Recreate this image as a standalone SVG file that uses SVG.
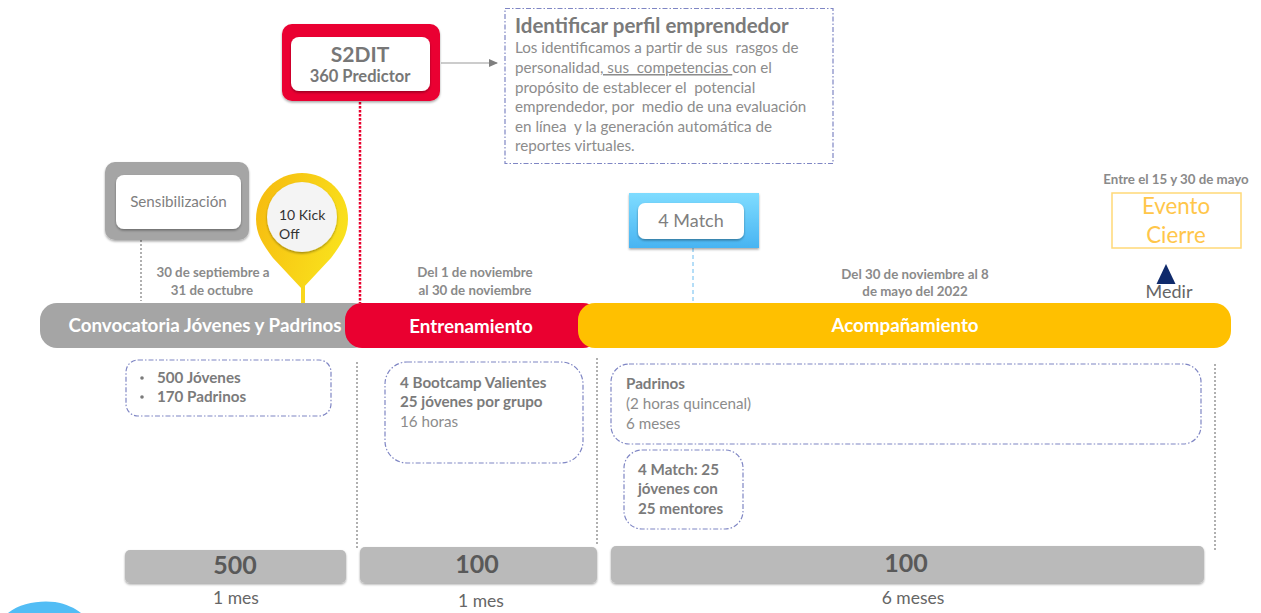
<svg xmlns="http://www.w3.org/2000/svg" width="1261" height="613" viewBox="0 0 1261 613">
<style>
text{font-family:Lato,"Open Sans","Liberation Sans",sans-serif;fill:#7f7f7f}
.b{font-weight:700}
.m{text-anchor:middle}
.date{font-size:13.300px;font-weight:700;fill:#8a8a8a;text-anchor:middle}
.body{font-size:15.200px;fill:#8c8c8c}
.bold{font-size:15.200px;font-weight:700;fill:#7b7b7b}
.bar{font-size:18.800px;font-weight:700;fill:#fff;text-anchor:middle}
.dash{fill:#fff;stroke:#7f86c4;stroke-width:1.2;stroke-dasharray:5 2 1.5 2}
.white{fill:#fff;filter:url(#s)}
.gbar{fill:#bababa;filter:url(#s)}
.num{font-size:25px;font-weight:700;fill:#595959;text-anchor:middle}
.dur{font-size:17.500px;fill:#666;text-anchor:middle}
.v{fill:none;stroke:#b0b0b0;stroke-width:2;stroke-dasharray:2 2}
</style>
<defs>
<filter id="s" x="-10%" y="-15%" width="120%" height="140%"><feDropShadow dx="0" dy="1.5" stdDeviation="1.2" flood-color="#000" flood-opacity=".35"/></filter>
<linearGradient id="pin" x1="0" y1="0" x2="1" y2="0.4"><stop offset="0" stop-color="#f6b90f"/><stop offset="1" stop-color="#f9e01c"/></linearGradient>
<linearGradient id="blue" x1="0" y1="0" x2="0" y2="1"><stop offset="0" stop-color="#7fdcff"/><stop offset="1" stop-color="#48b4f2"/></linearGradient>
<marker id="ah" markerWidth="9" markerHeight="8" refX="8" refY="4" orient="auto" markerUnits="userSpaceOnUse"><path d="M0 0L9 4L0 8Z" fill="#7f7f7f"/></marker>
</defs>

<g id="connectors">
<path d="M441 63H497" fill="none" stroke="#9a9a9a" stroke-width="1.2" marker-end="url(#ah)"/>
<path d="M360 102V303" fill="none" stroke="#e8002d" stroke-width="2.500" stroke-dasharray="2.500 1.500"/>
<path d="M141 240V301" class="v"/>
<path d="M303 285V304" fill="none" stroke="#f9d71c" stroke-width="4"/>
<path d="M693 248V302" fill="none" stroke="#6bbcf0" stroke-width="1" stroke-dasharray="4 3"/>
<path d="M357 362V548" class="v"/>
<path d="M597 358V545" class="v"/>
<path d="M1215 364V552" class="v"/>
</g>

<g id="bars">
<g id="bar-convocatoria"><rect x="40" y="303" width="330" height="45" rx="17" fill="#a5a5a5"/><text class="bar" x="205" y="332">Convocatoria Jóvenes y Padrinos</text></g>
<g id="bar-entrenamiento"><rect x="345" y="303" width="255" height="45" rx="17" fill="#ea0030"/><text class="bar" x="471" y="333">Entrenamiento</text></g>
<g id="bar-acompanamiento"><rect x="578" y="303" width="653" height="45" rx="17" fill="#ffc000"/><text class="bar" x="905" y="332">Acompañamiento</text></g>
</g>

<g id="s2dit">
<rect x="282" y="24" width="158" height="77" rx="10" fill="#ea0030" filter="url(#s)"/>
<rect class="white" x="291" y="37" width="139" height="54" rx="8"/>
<text class="m b" x="360" y="62" font-size="21" style="fill:#777">S2DIT</text>
<text class="m b" x="360" y="82" font-size="16.500" style="fill:#777">360 Predictor</text>
</g>

<g id="perfil">
<rect class="dash" x="505" y="8.500" width="328" height="155" style="fill:none"/>
<text class="b" x="515" y="33" font-size="20.500" style="fill:#7a7a7a">Identificar perfil emprendedor</text>
<text class="body" x="515" y="53" xml:space="preserve">Los identificamos a partir de sus  rasgos de</text>
<text class="body" x="515" y="73" xml:space="preserve">personalidad<tspan text-decoration="underline">, sus  competencias </tspan>con el</text>
<text class="body" x="515" y="93" xml:space="preserve">propósito de establecer el  potencial</text>
<text class="body" x="515" y="112" xml:space="preserve">emprendedor, por  medio de una evaluación</text>
<text class="body" x="515" y="132" xml:space="preserve">en línea  y la generación automática de</text>
<text class="body" x="515" y="151">reportes virtuales.</text>
</g>

<g id="sensibilizacion">
<rect x="105" y="162" width="144" height="78" rx="10" fill="#a5a5a5" filter="url(#s)"/>
<rect class="white" x="116" y="175" width="125" height="54" rx="8"/>
<text class="m" x="178.500" y="207" font-size="15.200">Sensibilización</text>
</g>

<g id="kickoff">
<path d="M302 173C327 173 348 193 348 219C348 235 340 246 331 258L302 289L273 258C264 246 256 235 256 219C256 193 277 173 302 173Z" fill="url(#pin)"/>
<circle cx="302" cy="217" r="35" fill="#f4f4f4" filter="url(#s)"/>
<text x="279" y="220" font-size="14" style="fill:#333">10 Kick</text>
<text x="279" y="239" font-size="14" style="fill:#333">Off</text>
</g>

<g id="match">
<rect x="629" y="193" width="130" height="55" fill="url(#blue)" filter="url(#s)"/>
<rect class="white" x="638" y="203" width="106" height="36" rx="7"/>
<text class="m" x="691" y="227" font-size="18">4 Match</text>
</g>

<g id="evento">
<rect x="1112" y="193" width="129" height="55" fill="#fff" stroke="#ffd977" stroke-width="1.5"/>
<text class="m" x="1176" y="214" font-size="22.300" style="fill:#ffc64a">Evento</text>
<text class="m" x="1176" y="243" font-size="22.300" style="fill:#ffc64a">Cierre</text>
</g>

<g id="medir">
<path d="M1166 264L1175.500 284H1156.500Z" fill="#0f2a6b"/>
<text class="m" x="1169" y="298" font-size="18" style="fill:#666">Medir</text>
</g>

<g id="dates">
<text class="date" x="213" y="277">30 de septiembre a</text>
<text class="date" x="212" y="295">31 de octubre</text>
<text class="date" x="475" y="277">Del 1 de noviembre</text>
<text class="date" x="475" y="295">al 30 de noviembre</text>
<text class="date" x="915" y="279">Del 30 de noviembre al 8</text>
<text class="date" x="915" y="296">de mayo del 2022</text>
<text class="date" x="1176" y="184">Entre el 15 y 30 de mayo</text>
</g>

<g id="box-convocatoria">
<rect class="dash" x="126" y="360" width="205" height="56" rx="12"/>
<circle cx="142" cy="378" r="1.800" fill="#7b7b7b"/><circle cx="142" cy="397" r="1.800" fill="#7b7b7b"/>
<text class="bold" x="157" y="383">500 Jóvenes</text>
<text class="bold" x="157" y="402">170 Padrinos</text>
</g>

<g id="box-entrenamiento">
<rect class="dash" x="385" y="362" width="198" height="101" rx="22"/>
<text class="bold" x="400" y="388">4 Bootcamp Valientes</text>
<text class="bold" x="400" y="407">25 jóvenes por grupo</text>
<text class="body" x="400" y="427">16 horas</text>
</g>

<g id="box-padrinos">
<rect class="dash" x="611" y="364" width="590" height="80" rx="18"/>
<text class="bold" x="626" y="389">Padrinos</text>
<text class="body" x="626" y="409">(2 horas quincenal)</text>
<text class="body" x="626" y="429">6 meses</text>
</g>

<g id="box-match">
<rect class="dash" x="624" y="450" width="119" height="79" rx="18"/>
<text class="bold" x="638" y="475">4 Match: 25</text>
<text class="bold" x="638" y="494">jóvenes con</text>
<text class="bold" x="638" y="514">25 mentores</text>
</g>

<g id="total-500">
<rect class="gbar" x="125" y="550" width="221" height="33" rx="5"/>
<text class="num" x="235" y="574">500</text>
<text class="dur" x="236" y="604">1 mes</text>
</g>
<g id="total-100a">
<rect class="gbar" x="360" y="547" width="237" height="36" rx="5"/>
<text class="num" x="477" y="573">100</text>
<text class="dur" x="481" y="607">1 mes</text>
</g>
<g id="total-100b">
<rect class="gbar" x="611" y="546" width="593" height="37" rx="5"/>
<text class="num" x="906" y="572">100</text>
<text class="dur" x="913" y="604">6 meses</text>
</g>

<path id="blob" d="M8 613C20 603 40 600 55 602C66 604 75 608 81 613Z" fill="#52bdf5"/>
</svg>
